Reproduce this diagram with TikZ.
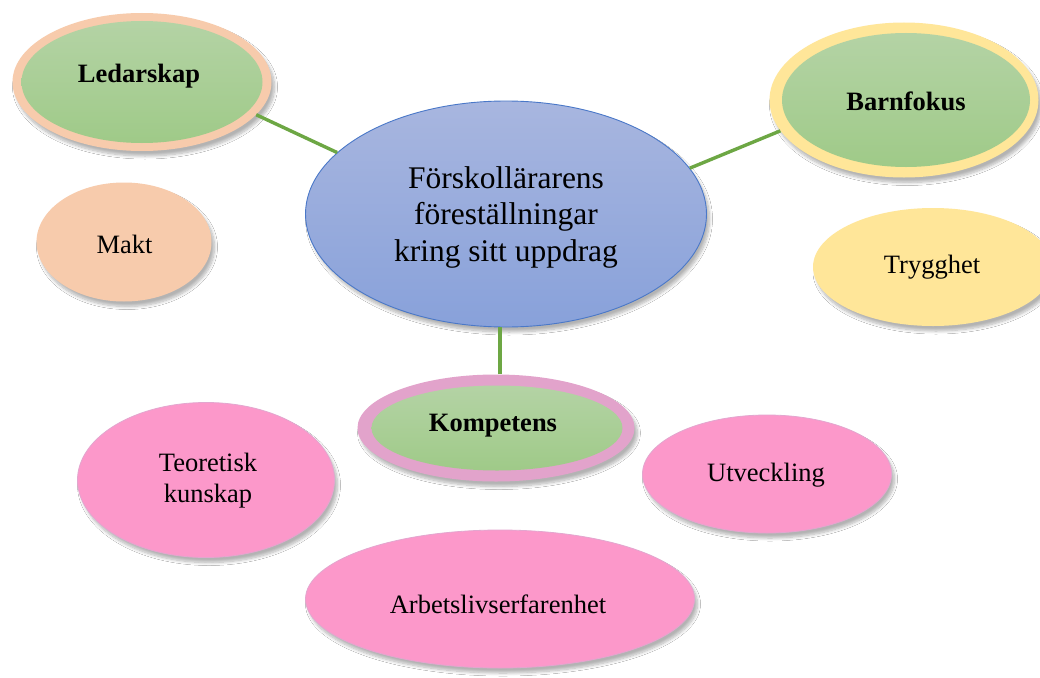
\documentclass[tikz,border=0pt]{standalone}
\usepackage{fontspec}
\setmainfont{Liberation Serif}
\usetikzlibrary{shapes.geometric,shadows.blur}
\definecolor{ringpeach}{HTML}{F7CBAC}
\definecolor{ringyellow}{HTML}{FFE699}
\definecolor{ringpink}{HTML}{E2A3CB}
\definecolor{pinkfill}{HTML}{FC98CA}
\definecolor{pinkedge}{HTML}{E3A6CF}
\definecolor{greentop}{HTML}{B4D3A5}
\definecolor{greenbot}{HTML}{9FCA88}
\definecolor{bluetop}{HTML}{A8B6DF}
\definecolor{bluebot}{HTML}{88A1DA}
\definecolor{blueedge}{HTML}{4A78C8}
\definecolor{linkgreen}{HTML}{6DA744}
\tikzset{
  shadowed/.style={blur shadow={shadow xshift=3pt, shadow yshift=-5pt, shadow blur steps=8, shadow opacity=30, shadow blur radius=3pt}},
  ringouter/.style={fill=#1, draw=none, shadowed},
  greeninner/.style={draw=none, top color=greentop, bottom color=greenbot},
  pinkoval/.style={fill=pinkfill, draw=pinkedge, line width=0.8pt, shadowed},
  plainoval/.style={fill=#1, draw=none, shadowed},
  lbl/.style={font=\fontsize{26.5}{31}\selectfont, align=center, inner sep=0pt},
  blbl/.style={font=\fontsize{26.5}{31}\selectfont\bfseries, align=center, inner sep=0pt},
  link/.style={draw=linkgreen, line width=3.4pt}
}
\begin{document}
\begin{tikzpicture}[x=1pt,y=-1pt]
\useasboundingbox (0,0) rectangle (1040,677);
\clip (0,0) rectangle (1040,677);
\fill[white] (0,0) rectangle (1040,677);

% central
\node[ellipse, minimum width=401pt, minimum height=226pt, inner sep=0pt,
      top color=bluetop, bottom color=bluebot, draw=blueedge, line width=0.9pt, shadowed] (cen) at (506,214) {};
\node[font=\fontsize{31.5}{36.5}\selectfont, align=center, inner sep=0pt] (cent) at (506,217)
  {Förskollärarens\\föreställningar\\kring sitt uppdrag};

% Ledarskap
\node[ellipse, minimum width=259pt, minimum height=138pt, inner sep=0pt, ringouter=ringpeach] (led) at (142,82) {};
\node[ellipse, minimum width=241pt, minimum height=122pt, inner sep=0pt, greeninner] (ledin) at (142,82) {};
\node[blbl] (ledt) at (139,76) {Ledarskap};

% Barnfokus
\node[ellipse, minimum width=269pt, minimum height=155pt, inner sep=0pt, ringouter=ringyellow] (barn) at (904,100) {};
\node[ellipse, minimum width=248pt, minimum height=134pt, inner sep=0pt, greeninner] (barnin) at (906,100) {};
\node[blbl] (barnt) at (906,101) {Barnfokus};

% Kompetens
\node[ellipse, minimum width=277pt, minimum height=107pt, inner sep=0pt, ringouter=ringpink] (komp) at (496,428) {};
\node[ellipse, minimum width=251pt, minimum height=85pt, inner sep=0pt, greeninner] (kompin) at (497,428) {};
\node[blbl] (kompt) at (493,426) {Kompetens};

% Makt
\node[ellipse, minimum width=175pt, minimum height=119pt, inner sep=0pt, plainoval=ringpeach] (makt) at (124,242) {};
\node[lbl] (maktt) at (124.5,244) {Makt};

% Trygghet
\node[ellipse, minimum width=240pt, minimum height=118pt, inner sep=0pt, plainoval=ringyellow] (tryg) at (933,267) {};
\node[lbl] (trygt) at (932,267) {Trygghet};

% Teoretisk kunskap
\node[ellipse, minimum width=257pt, minimum height=155pt, inner sep=0pt, pinkoval] (teo) at (206,480) {};
\node[lbl] (teot) at (208,481) {Teoretisk\\kunskap};

% Utveckling
\node[ellipse, minimum width=249pt, minimum height=118pt, inner sep=0pt, pinkoval] (utv) at (767,474) {};
\node[lbl] (utvt) at (766,475) {Utveckling};

% Arbetslivserfarenhet
\node[ellipse, minimum width=389pt, minimum height=138pt, inner sep=0pt, pinkoval] (arb) at (500,599) {};
\node[lbl] (arbt) at (498,604) {Arbetslivserfarenhet};

% connectors
\draw[link] (led.-16) -- (cen.160);
\draw[link] (barn.-166) -- (cen.14.6);
\draw[link] ([xshift=4pt]komp.north) -- ([xshift=4pt]komp.north |- cen.south);
\end{tikzpicture}
\end{document}
